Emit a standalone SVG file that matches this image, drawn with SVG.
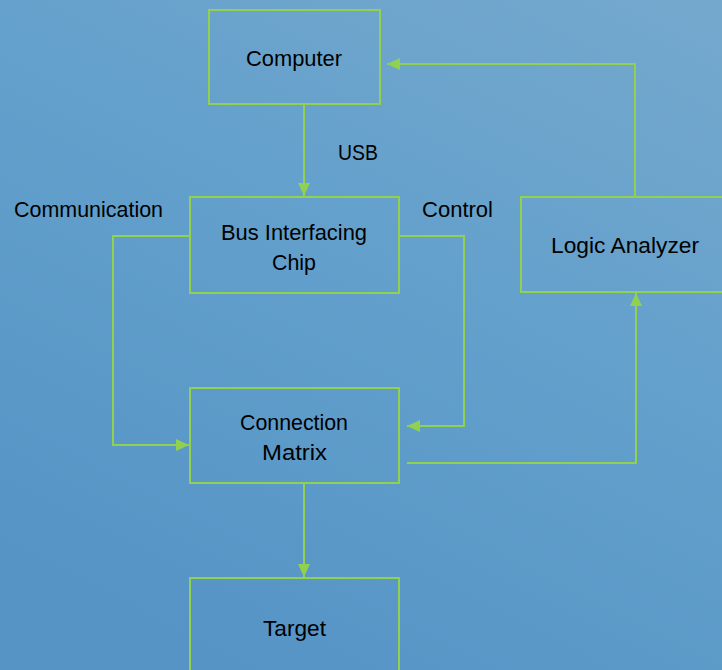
<svg xmlns="http://www.w3.org/2000/svg" width="722" height="670" viewBox="0 0 722 670">
  <defs>
    <linearGradient id="bg" x1="0.9" y1="0" x2="0.35" y2="1">
      <stop offset="0" stop-color="#74a8cd"/>
      <stop offset="0.45" stop-color="#63a0cc"/>
      <stop offset="1" stop-color="#5594c5"/>
    </linearGradient>
    <marker id="arrow" viewBox="0 0 13 12" refX="13" refY="6" markerWidth="13" markerHeight="12" markerUnits="userSpaceOnUse" orient="auto">
      <path d="M0,0 L13,6 L0,12 Z" fill="#92d050"/>
    </marker>
    <style>
      .box { fill: none; stroke: #92d050; stroke-width: 2; }
      .link { fill: none; stroke: #92d050; stroke-width: 2; marker-end: url(#arrow); }
      text { font-family: "Liberation Sans", "DejaVu Sans", sans-serif; font-size: 22px; fill: #000; }
    </style>
  </defs>

  <rect x="0" y="0" width="722" height="670" fill="url(#bg)"/>

  <g id="connectors">
    <path class="link" d="M304,104 V196"/>
    <path class="link" d="M190,236 H113 V445 H189"/>
    <path class="link" d="M399,236 H464 V426 H407"/>
    <path class="link" d="M407,463 H636 V293"/>
    <path class="link" d="M635,197 V64 H387"/>
    <path class="link" d="M304,483 V577"/>
  </g>

  <g id="labels">
    <text x="338" y="160" textLength="40" lengthAdjust="spacingAndGlyphs">USB</text>
    <text x="14" y="217" textLength="149" lengthAdjust="spacingAndGlyphs">Communication</text>
    <text x="422" y="217" textLength="71" lengthAdjust="spacingAndGlyphs">Control</text>
  </g>

  <g id="computer">
    <rect class="box" x="209" y="10" width="171" height="94"/>
    <text x="246" y="66" textLength="96" lengthAdjust="spacingAndGlyphs">Computer</text>
  </g>

  <g id="bus-interfacing-chip">
    <rect class="box" x="190" y="197" width="209" height="96"/>
    <text x="221" y="240" textLength="146" lengthAdjust="spacingAndGlyphs">Bus Interfacing</text>
    <text x="272" y="270" textLength="44" lengthAdjust="spacingAndGlyphs">Chip</text>
  </g>

  <g id="logic-analyzer">
    <rect class="box" x="521" y="197" width="210" height="95"/>
    <text x="551" y="253" textLength="148" lengthAdjust="spacingAndGlyphs">Logic Analyzer</text>
  </g>

  <g id="connection-matrix">
    <rect class="box" x="190" y="388" width="209" height="95"/>
    <text x="240" y="430" textLength="108" lengthAdjust="spacingAndGlyphs">Connection</text>
    <text x="262" y="460" textLength="65" lengthAdjust="spacingAndGlyphs">Matrix</text>
  </g>

  <g id="target">
    <rect class="box" x="190" y="578" width="209" height="100"/>
    <text x="263" y="636" textLength="63" lengthAdjust="spacingAndGlyphs">Target</text>
  </g>
</svg>
